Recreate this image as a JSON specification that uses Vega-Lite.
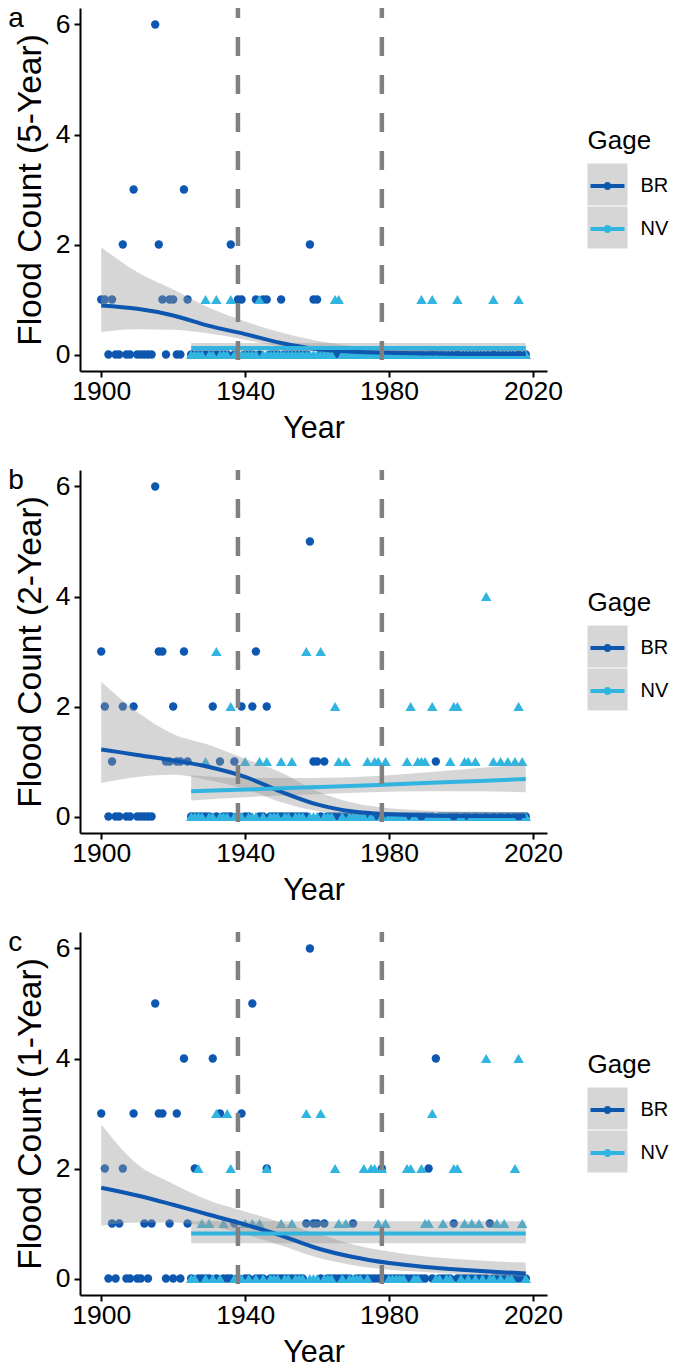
{
"$schema":"https://vega.github.io/schema/vega-lite/v6.json",
"padding":{"left":8,"top":4,"right":2,"bottom":0},
"config":{"view":{"stroke":null},"font":"Liberation Sans",
"axis":{"grid":false,"domainColor":"#000","domainWidth":2,"tickColor":"#000","tickWidth":2,"tickSize":6,"labelFontSize":26.5,"labelColor":"#000","labelFont":"Liberation Sans","titleFont":"Liberation Sans","titleFontSize":30.5,"titleFontWeight":"normal","titleColor":"#000"},
"axisX":{"labelPadding":1,"titlePadding":9},
"axisY":{"labelPadding":4,"titlePadding":8,"titleFontSize":33.5},
"title":{"anchor":"start","frame":"bounds","fontSize":28,"fontWeight":"normal","color":"#000","font":"Liberation Sans","offset":0,"baseline":"top","dy":31,"dx":-5},
"legend":{"orient":"none","legendX":507.5,"legendY":120,"titleFontSize":26,"titleFontWeight":"normal","titleColor":"#000","titleFont":"Liberation Sans","titlePadding":12,"labelFontSize":20,"labelColor":"#000","labelFont":"Liberation Sans","labelOffset":13,"symbolSize":1600,"symbolStrokeWidth":0,"rowPadding":1}},
"datasets":{
"pts":[
{"Gage":"BR","Year":1900,"a":1,"b":3,"c":3},{"Gage":"BR","Year":1901,"a":1,"b":2,"c":2},{"Gage":"BR","Year":1902,"a":0,"b":0,"c":0},{"Gage":"BR","Year":1903,"a":1,"b":1,"c":1},{"Gage":"BR","Year":1904,"a":0,"b":0,"c":0},{"Gage":"BR","Year":1905,"a":0,"b":0,"c":1},{"Gage":"BR","Year":1906,"a":2,"b":2,"c":2},{"Gage":"BR","Year":1907,"a":0,"b":0,"c":0},{"Gage":"BR","Year":1908,"a":0,"b":0,"c":0},{"Gage":"BR","Year":1909,"a":3,"b":2,"c":3},
{"Gage":"BR","Year":1910,"a":0,"b":0,"c":0},{"Gage":"BR","Year":1911,"a":0,"b":0,"c":0},{"Gage":"BR","Year":1912,"a":0,"b":0,"c":1},{"Gage":"BR","Year":1913,"a":0,"b":0,"c":0},{"Gage":"BR","Year":1914,"a":0,"b":0,"c":1},{"Gage":"BR","Year":1915,"a":6,"b":6,"c":5},{"Gage":"BR","Year":1916,"a":2,"b":3,"c":3},{"Gage":"BR","Year":1917,"a":1,"b":3,"c":3},{"Gage":"BR","Year":1918,"a":0,"b":1,"c":0},{"Gage":"BR","Year":1919,"a":1,"b":1,"c":1},
{"Gage":"BR","Year":1920,"a":1,"b":2,"c":0},{"Gage":"BR","Year":1921,"a":0,"b":1,"c":3},{"Gage":"BR","Year":1922,"a":0,"b":1,"c":0},{"Gage":"BR","Year":1923,"a":3,"b":3,"c":4},{"Gage":"BR","Year":1924,"a":1,"b":1,"c":1},{"Gage":"BR","Year":1925,"a":0,"b":0,"c":0},{"Gage":"BR","Year":1926,"a":0,"b":0,"c":2},{"Gage":"BR","Year":1927,"a":0,"b":0,"c":0},{"Gage":"BR","Year":1928,"a":0,"b":0,"c":0},{"Gage":"BR","Year":1929,"a":0,"b":0,"c":0},
{"Gage":"BR","Year":1930,"a":0,"b":0,"c":0},{"Gage":"BR","Year":1931,"a":0,"b":2,"c":4},{"Gage":"BR","Year":1932,"a":0,"b":0,"c":0},{"Gage":"BR","Year":1933,"a":0,"b":1,"c":3},{"Gage":"BR","Year":1934,"a":0,"b":0,"c":0},{"Gage":"BR","Year":1935,"a":0,"b":0,"c":0},{"Gage":"BR","Year":1936,"a":2,"b":0,"c":0},{"Gage":"BR","Year":1937,"a":0,"b":1,"c":1},{"Gage":"BR","Year":1938,"a":1,"b":0,"c":0},{"Gage":"BR","Year":1939,"a":1,"b":2,"c":3},
{"Gage":"BR","Year":1940,"a":0,"b":0,"c":0},{"Gage":"BR","Year":1941,"a":0,"b":0,"c":0},{"Gage":"BR","Year":1942,"a":0,"b":2,"c":5},{"Gage":"BR","Year":1943,"a":1,"b":3,"c":0},{"Gage":"BR","Year":1944,"a":0,"b":0,"c":0},{"Gage":"BR","Year":1945,"a":1,"b":0,"c":0},{"Gage":"BR","Year":1946,"a":1,"b":2,"c":2},{"Gage":"BR","Year":1947,"a":0,"b":0,"c":0},{"Gage":"BR","Year":1948,"a":0,"b":0,"c":0},{"Gage":"BR","Year":1949,"a":0,"b":0,"c":0},
{"Gage":"BR","Year":1950,"a":1,"b":0,"c":0},{"Gage":"BR","Year":1951,"a":0,"b":0,"c":0},{"Gage":"BR","Year":1952,"a":0,"b":0,"c":0},{"Gage":"BR","Year":1953,"a":0,"b":0,"c":0},{"Gage":"BR","Year":1954,"a":0,"b":0,"c":0},{"Gage":"BR","Year":1955,"a":0,"b":0,"c":0},{"Gage":"BR","Year":1956,"a":0,"b":0,"c":0},{"Gage":"BR","Year":1957,"a":0,"b":0,"c":1},{"Gage":"BR","Year":1958,"a":2,"b":5,"c":6},{"Gage":"BR","Year":1959,"a":1,"b":1,"c":1},
{"Gage":"BR","Year":1960,"a":1,"b":1,"c":1},{"Gage":"BR","Year":1961,"a":0,"b":0,"c":0},{"Gage":"BR","Year":1962,"a":0,"b":1,"c":1},{"Gage":"BR","Year":1963,"a":0,"b":0,"c":0},{"Gage":"BR","Year":1964,"a":0,"b":0,"c":0},{"Gage":"BR","Year":1965,"a":0,"b":0,"c":0},{"Gage":"BR","Year":1966,"a":0,"b":0,"c":0},{"Gage":"BR","Year":1967,"a":0,"b":0,"c":0},{"Gage":"BR","Year":1968,"a":0,"b":0,"c":0},{"Gage":"BR","Year":1969,"a":0,"b":0,"c":0},
{"Gage":"BR","Year":1970,"a":0,"b":0,"c":1},{"Gage":"BR","Year":1971,"a":0,"b":0,"c":0},{"Gage":"BR","Year":1972,"a":0,"b":0,"c":0},{"Gage":"BR","Year":1973,"a":0,"b":0,"c":0},{"Gage":"BR","Year":1974,"a":0,"b":0,"c":0},{"Gage":"BR","Year":1975,"a":0,"b":0,"c":0},{"Gage":"BR","Year":1976,"a":0,"b":0,"c":0},{"Gage":"BR","Year":1977,"a":0,"b":0,"c":0},{"Gage":"BR","Year":1978,"a":0,"b":0,"c":2},{"Gage":"BR","Year":1979,"a":0,"b":0,"c":0},
{"Gage":"BR","Year":1980,"a":0,"b":0,"c":0},{"Gage":"BR","Year":1981,"a":0,"b":0,"c":0},{"Gage":"BR","Year":1982,"a":0,"b":0,"c":0},{"Gage":"BR","Year":1983,"a":0,"b":0,"c":0},{"Gage":"BR","Year":1984,"a":0,"b":0,"c":0},{"Gage":"BR","Year":1985,"a":0,"b":0,"c":0},{"Gage":"BR","Year":1986,"a":0,"b":0,"c":0},{"Gage":"BR","Year":1987,"a":0,"b":0,"c":0},{"Gage":"BR","Year":1988,"a":0,"b":0,"c":0},{"Gage":"BR","Year":1989,"a":0,"b":0,"c":0},
{"Gage":"BR","Year":1990,"a":0,"b":0,"c":0},{"Gage":"BR","Year":1991,"a":0,"b":0,"c":2},{"Gage":"BR","Year":1992,"a":0,"b":0,"c":0},{"Gage":"BR","Year":1993,"a":0,"b":1,"c":4},{"Gage":"BR","Year":1994,"a":0,"b":0,"c":0},{"Gage":"BR","Year":1995,"a":0,"b":0,"c":0},{"Gage":"BR","Year":1996,"a":0,"b":0,"c":0},{"Gage":"BR","Year":1997,"a":0,"b":0,"c":0},{"Gage":"BR","Year":1998,"a":0,"b":0,"c":1},{"Gage":"BR","Year":1999,"a":0,"b":0,"c":0},
{"Gage":"BR","Year":2000,"a":0,"b":0,"c":0},{"Gage":"BR","Year":2001,"a":0,"b":0,"c":0},{"Gage":"BR","Year":2002,"a":0,"b":0,"c":0},{"Gage":"BR","Year":2003,"a":0,"b":0,"c":0},{"Gage":"BR","Year":2004,"a":0,"b":0,"c":0},{"Gage":"BR","Year":2005,"a":0,"b":0,"c":0},{"Gage":"BR","Year":2006,"a":0,"b":0,"c":0},{"Gage":"BR","Year":2007,"a":0,"b":0,"c":0},{"Gage":"BR","Year":2008,"a":0,"b":0,"c":1},{"Gage":"BR","Year":2009,"a":0,"b":0,"c":0},
{"Gage":"BR","Year":2010,"a":0,"b":0,"c":0},{"Gage":"BR","Year":2011,"a":0,"b":0,"c":0},{"Gage":"BR","Year":2012,"a":0,"b":0,"c":0},{"Gage":"BR","Year":2013,"a":0,"b":0,"c":0},{"Gage":"BR","Year":2014,"a":0,"b":0,"c":0},{"Gage":"BR","Year":2015,"a":0,"b":0,"c":0},{"Gage":"BR","Year":2016,"a":0,"b":0,"c":0},{"Gage":"BR","Year":2017,"a":0,"b":0,"c":0},{"Gage":"BR","Year":2018,"a":0,"b":0,"c":0},
{"Gage":"NV","Year":1925,"a":0,"b":0,"c":0},{"Gage":"NV","Year":1926,"a":0,"b":0,"c":0},{"Gage":"NV","Year":1927,"a":0,"b":0,"c":2},{"Gage":"NV","Year":1928,"a":0,"b":0,"c":1},{"Gage":"NV","Year":1929,"a":1,"b":1,"c":0},
{"Gage":"NV","Year":1930,"a":0,"b":0,"c":1},{"Gage":"NV","Year":1931,"a":0,"b":0,"c":0},{"Gage":"NV","Year":1932,"a":1,"b":3,"c":3},{"Gage":"NV","Year":1933,"a":0,"b":0,"c":0},{"Gage":"NV","Year":1934,"a":0,"b":0,"c":1},{"Gage":"NV","Year":1935,"a":0,"b":0,"c":3},{"Gage":"NV","Year":1936,"a":1,"b":2,"c":2},{"Gage":"NV","Year":1937,"a":0,"b":0,"c":0},{"Gage":"NV","Year":1938,"a":0,"b":0,"c":0},{"Gage":"NV","Year":1939,"a":0,"b":0,"c":0},
{"Gage":"NV","Year":1940,"a":0,"b":1,"c":1},{"Gage":"NV","Year":1941,"a":0,"b":0,"c":0},{"Gage":"NV","Year":1942,"a":0,"b":0,"c":1},{"Gage":"NV","Year":1943,"a":0,"b":0,"c":0},{"Gage":"NV","Year":1944,"a":1,"b":1,"c":1},{"Gage":"NV","Year":1945,"a":0,"b":0,"c":0},{"Gage":"NV","Year":1946,"a":0,"b":1,"c":2},{"Gage":"NV","Year":1947,"a":0,"b":0,"c":0},{"Gage":"NV","Year":1948,"a":0,"b":0,"c":0},{"Gage":"NV","Year":1949,"a":0,"b":0,"c":0},
{"Gage":"NV","Year":1950,"a":0,"b":1,"c":1},{"Gage":"NV","Year":1951,"a":0,"b":0,"c":0},{"Gage":"NV","Year":1952,"a":0,"b":0,"c":0},{"Gage":"NV","Year":1953,"a":0,"b":1,"c":1},{"Gage":"NV","Year":1954,"a":0,"b":0,"c":0},{"Gage":"NV","Year":1955,"a":0,"b":0,"c":0},{"Gage":"NV","Year":1956,"a":0,"b":0,"c":0},{"Gage":"NV","Year":1957,"a":0,"b":3,"c":3},{"Gage":"NV","Year":1958,"a":0,"b":0,"c":0},{"Gage":"NV","Year":1959,"a":0,"b":0,"c":0},
{"Gage":"NV","Year":1960,"a":0,"b":0,"c":0},{"Gage":"NV","Year":1961,"a":0,"b":3,"c":3},{"Gage":"NV","Year":1962,"a":0,"b":0,"c":0},{"Gage":"NV","Year":1963,"a":0,"b":0,"c":0},{"Gage":"NV","Year":1964,"a":0,"b":0,"c":0},{"Gage":"NV","Year":1965,"a":1,"b":2,"c":2},{"Gage":"NV","Year":1966,"a":1,"b":1,"c":1},{"Gage":"NV","Year":1967,"a":0,"b":0,"c":0},{"Gage":"NV","Year":1968,"a":0,"b":1,"c":1},{"Gage":"NV","Year":1969,"a":0,"b":0,"c":0},
{"Gage":"NV","Year":1970,"a":0,"b":0,"c":0},{"Gage":"NV","Year":1971,"a":0,"b":0,"c":0},{"Gage":"NV","Year":1972,"a":0,"b":0,"c":0},{"Gage":"NV","Year":1973,"a":0,"b":0,"c":2},{"Gage":"NV","Year":1974,"a":0,"b":1,"c":0},{"Gage":"NV","Year":1975,"a":0,"b":0,"c":2},{"Gage":"NV","Year":1976,"a":0,"b":1,"c":2},{"Gage":"NV","Year":1977,"a":0,"b":1,"c":1},{"Gage":"NV","Year":1978,"a":0,"b":0,"c":2},{"Gage":"NV","Year":1979,"a":0,"b":1,"c":1},
{"Gage":"NV","Year":1980,"a":0,"b":0,"c":0},{"Gage":"NV","Year":1981,"a":0,"b":0,"c":0},{"Gage":"NV","Year":1982,"a":0,"b":0,"c":0},{"Gage":"NV","Year":1983,"a":0,"b":0,"c":0},{"Gage":"NV","Year":1984,"a":0,"b":0,"c":0},{"Gage":"NV","Year":1985,"a":0,"b":1,"c":2},{"Gage":"NV","Year":1986,"a":0,"b":2,"c":2},{"Gage":"NV","Year":1987,"a":0,"b":0,"c":0},{"Gage":"NV","Year":1988,"a":0,"b":1,"c":0},{"Gage":"NV","Year":1989,"a":1,"b":1,"c":2},
{"Gage":"NV","Year":1990,"a":0,"b":1,"c":1},{"Gage":"NV","Year":1991,"a":0,"b":0,"c":1},{"Gage":"NV","Year":1992,"a":1,"b":2,"c":3},{"Gage":"NV","Year":1993,"a":0,"b":0,"c":0},{"Gage":"NV","Year":1994,"a":0,"b":0,"c":0},{"Gage":"NV","Year":1995,"a":0,"b":0,"c":1},{"Gage":"NV","Year":1996,"a":0,"b":0,"c":0},{"Gage":"NV","Year":1997,"a":0,"b":1,"c":0},{"Gage":"NV","Year":1998,"a":0,"b":2,"c":2},{"Gage":"NV","Year":1999,"a":1,"b":2,"c":2},
{"Gage":"NV","Year":2000,"a":0,"b":0,"c":0},{"Gage":"NV","Year":2001,"a":0,"b":1,"c":1},{"Gage":"NV","Year":2002,"a":0,"b":1,"c":0},{"Gage":"NV","Year":2003,"a":0,"b":0,"c":1},{"Gage":"NV","Year":2004,"a":0,"b":1,"c":0},{"Gage":"NV","Year":2005,"a":0,"b":0,"c":1},{"Gage":"NV","Year":2006,"a":0,"b":0,"c":0},{"Gage":"NV","Year":2007,"a":0,"b":4,"c":4},{"Gage":"NV","Year":2008,"a":0,"b":0,"c":0},{"Gage":"NV","Year":2009,"a":1,"b":1,"c":0},
{"Gage":"NV","Year":2010,"a":0,"b":0,"c":1},{"Gage":"NV","Year":2011,"a":0,"b":1,"c":0},{"Gage":"NV","Year":2012,"a":0,"b":0,"c":1},{"Gage":"NV","Year":2013,"a":0,"b":1,"c":0},{"Gage":"NV","Year":2014,"a":0,"b":0,"c":0},{"Gage":"NV","Year":2015,"a":0,"b":1,"c":2},{"Gage":"NV","Year":2016,"a":1,"b":2,"c":4},{"Gage":"NV","Year":2017,"a":0,"b":1,"c":1},{"Gage":"NV","Year":2018,"a":0,"b":0,"c":0}
],
"fit":[
{"panel":"a","Gage":"BR","Year":1900,"fit":0.89,"lo":0.41,"hi":1.95},{"panel":"a","Gage":"BR","Year":1910,"fit":0.83,"lo":0.46,"hi":1.5},{"panel":"a","Gage":"BR","Year":1920,"fit":0.71,"lo":0.45,"hi":1.18},{"panel":"a","Gage":"BR","Year":1930,"fit":0.52,"lo":0.38,"hi":0.85},{"panel":"a","Gage":"BR","Year":1940,"fit":0.37,"lo":0.27,"hi":0.6},{"panel":"a","Gage":"BR","Year":1950,"fit":0.21,"lo":0.14,"hi":0.4},{"panel":"a","Gage":"BR","Year":1960,"fit":0.1,"lo":0.05,"hi":0.25},{"panel":"a","Gage":"BR","Year":1970,"fit":0.05,"lo":0.02,"hi":0.15},{"panel":"a","Gage":"BR","Year":1980,"fit":0.03,"lo":0.01,"hi":0.09},{"panel":"a","Gage":"BR","Year":1990,"fit":0.02,"lo":0.005,"hi":0.06},{"panel":"a","Gage":"BR","Year":2000,"fit":0.01,"lo":0.003,"hi":0.05},{"panel":"a","Gage":"BR","Year":2018,"fit":0.01,"lo":0.001,"hi":0.05},
{"panel":"a","Gage":"NV","Year":1925,"fit":0.117,"lo":0.065,"hi":0.21},{"panel":"a","Gage":"NV","Year":2018,"fit":0.117,"lo":0.065,"hi":0.21},
{"panel":"b","Gage":"BR","Year":1900,"fit":1.22,"lo":0.61,"hi":2.45},{"panel":"b","Gage":"BR","Year":1910,"fit":1.12,"lo":0.72,"hi":1.9},{"panel":"b","Gage":"BR","Year":1920,"fit":1.02,"lo":0.76,"hi":1.5},{"panel":"b","Gage":"BR","Year":1930,"fit":0.9,"lo":0.66,"hi":1.3},{"panel":"b","Gage":"BR","Year":1940,"fit":0.72,"lo":0.5,"hi":1.05},{"panel":"b","Gage":"BR","Year":1950,"fit":0.45,"lo":0.26,"hi":0.8},{"panel":"b","Gage":"BR","Year":1960,"fit":0.22,"lo":0.1,"hi":0.46},{"panel":"b","Gage":"BR","Year":1970,"fit":0.09,"lo":0.03,"hi":0.25},{"panel":"b","Gage":"BR","Year":1980,"fit":0.04,"lo":0.01,"hi":0.15},{"panel":"b","Gage":"BR","Year":1990,"fit":0.02,"lo":0.004,"hi":0.11},{"panel":"b","Gage":"BR","Year":2000,"fit":0.01,"lo":0.001,"hi":0.09},{"panel":"b","Gage":"BR","Year":2018,"fit":0.01,"lo":0,"hi":0.08},
{"panel":"b","Gage":"NV","Year":1925,"fit":0.46,"lo":0.29,"hi":0.75},{"panel":"b","Gage":"NV","Year":1940,"fit":0.49,"lo":0.35,"hi":0.7},{"panel":"b","Gage":"NV","Year":1958,"fit":0.53,"lo":0.4,"hi":0.7},{"panel":"b","Gage":"NV","Year":1975,"fit":0.57,"lo":0.44,"hi":0.73},{"panel":"b","Gage":"NV","Year":1990,"fit":0.61,"lo":0.46,"hi":0.8},{"panel":"b","Gage":"NV","Year":2005,"fit":0.645,"lo":0.46,"hi":0.88},{"panel":"b","Gage":"NV","Year":2018,"fit":0.68,"lo":0.44,"hi":0.95},
{"panel":"c","Gage":"BR","Year":1900,"fit":1.65,"lo":0.96,"hi":2.8},{"panel":"c","Gage":"BR","Year":1910,"fit":1.51,"lo":1.02,"hi":2.08},{"panel":"c","Gage":"BR","Year":1920,"fit":1.34,"lo":1.02,"hi":1.72},{"panel":"c","Gage":"BR","Year":1930,"fit":1.16,"lo":0.95,"hi":1.42},{"panel":"c","Gage":"BR","Year":1940,"fit":0.98,"lo":0.8,"hi":1.22},{"panel":"c","Gage":"BR","Year":1950,"fit":0.78,"lo":0.6,"hi":1.02},{"panel":"c","Gage":"BR","Year":1960,"fit":0.55,"lo":0.38,"hi":0.82},{"panel":"c","Gage":"BR","Year":1970,"fit":0.39,"lo":0.24,"hi":0.62},{"panel":"c","Gage":"BR","Year":1980,"fit":0.28,"lo":0.16,"hi":0.49},{"panel":"c","Gage":"BR","Year":1990,"fit":0.21,"lo":0.12,"hi":0.4},{"panel":"c","Gage":"BR","Year":2000,"fit":0.16,"lo":0.08,"hi":0.35},{"panel":"c","Gage":"BR","Year":2010,"fit":0.12,"lo":0.05,"hi":0.31},{"panel":"c","Gage":"BR","Year":2018,"fit":0.09,"lo":0.03,"hi":0.29},
{"panel":"c","Gage":"NV","Year":1925,"fit":0.82,"lo":0.64,"hi":1.04},{"panel":"c","Gage":"NV","Year":2018,"fit":0.82,"lo":0.64,"hi":1.04}
],
"vlines":[{"Year":1938},{"Year":1978}]
},
"spacing":99,
"bounds":"flush",
"resolve":{"scale":{"color":"independent","fill":"independent"},"legend":{"color":"independent","fill":"independent"}},
"vconcat":[
{"width":467,"height":363,"title":{"text":"a"},
"layer":[
{"data":{"name":"pts"},"transform":[{"fold":["a","b","c"],"as":["panel","Count"]},{"filter":"datum.panel === 'a' && datum.Gage === 'BR'"}],
"mark":{"type":"point","shape":"circle","filled":true,"opacity":1,"size":70},
"encoding":{
"x":{"field":"Year","type":"quantitative","scale":{"domain":[1894.1,2023.9],"nice":false,"zero":false},"axis":{"values":[1900,1940,1980,2020],"format":"d","title":"Year"}},
"y":{"field":"Count","type":"quantitative","scale":{"domain":[-0.3,6.3],"nice":false,"zero":false},"axis":{"values":[0,2,4,6],"format":"d","title":"Flood Count (5-Year)"}},
"color":{"field":"Gage","type":"nominal","scale":{"domain":["BR","NV"],"range":["#0D57B0","#31B5E0"]},"legend":{"title":"Gage","zindex":2,"symbolType":"M0,-1.05L0,-1.05Z M0,1.05L0,1.05Z M-0.85,-0.1H0.85V0.1H-0.85Z M-0.2,0A0.2,0.2 0 1,1 0.2,0A0.2,0.2 0 1,1 -0.2,0Z","encode":{"symbols":{"size":{"value":1600}}}}}}},
{"data":{"name":"pts"},"transform":[{"fold":["a","b","c"],"as":["panel","Count"]},{"filter":"datum.panel === 'a' && datum.Gage === 'NV'"}],
"mark":{"type":"point","shape":"triangle-up","filled":true,"opacity":1,"size":110},
"encoding":{"x":{"field":"Year","type":"quantitative"},"y":{"field":"Count","type":"quantitative"},"color":{"field":"Gage","type":"nominal"}}},
{"data":{"name":"fit"},"transform":[{"filter":"datum.panel === 'a'"}],"mark":{"type":"area","opacity":0.4,"interpolate":"monotone"},
"encoding":{"x":{"field":"Year","type":"quantitative"},"y":{"field":"lo","type":"quantitative"},"y2":{"field":"hi"},"fill":{"field":"Gage","type":"nominal","scale":{"range":["#999999","#999999"]},"legend":{"title":null,"legendY":156.5,"zindex":1,"labelExpr":"''","symbolType":"M-1,-1.05H1V1.05H-1Z","encode":{"symbols":{"size":{"value":1600}}}}}}},
{"data":{"name":"fit"},"transform":[{"filter":"datum.panel === 'a'"}],"mark":{"type":"line","strokeWidth":4,"interpolate":"monotone"},
"encoding":{"x":{"field":"Year","type":"quantitative"},"y":{"field":"fit","type":"quantitative"},"color":{"field":"Gage","type":"nominal"}}},
{"data":{"name":"vlines"},"mark":{"type":"rule","color":"#808080","strokeWidth":4.5,"strokeDash":[19,19],"strokeDashOffset":9},"encoding":{"x":{"field":"Year","type":"quantitative"}}}
]},
{"width":467,"height":363,"title":{"text":"b"},
"layer":[
{"data":{"name":"pts"},"transform":[{"fold":["a","b","c"],"as":["panel","Count"]},{"filter":"datum.panel === 'b' && datum.Gage === 'BR'"}],
"mark":{"type":"point","shape":"circle","filled":true,"opacity":1,"size":70},
"encoding":{
"x":{"field":"Year","type":"quantitative","scale":{"domain":[1894.1,2023.9],"nice":false,"zero":false},"axis":{"values":[1900,1940,1980,2020],"format":"d","title":"Year"}},
"y":{"field":"Count","type":"quantitative","scale":{"domain":[-0.3,6.3],"nice":false,"zero":false},"axis":{"values":[0,2,4,6],"format":"d","title":"Flood Count (2-Year)"}},
"color":{"field":"Gage","type":"nominal","scale":{"domain":["BR","NV"],"range":["#0D57B0","#31B5E0"]},"legend":{"title":"Gage","zindex":2,"symbolType":"M0,-1.05L0,-1.05Z M0,1.05L0,1.05Z M-0.85,-0.1H0.85V0.1H-0.85Z M-0.2,0A0.2,0.2 0 1,1 0.2,0A0.2,0.2 0 1,1 -0.2,0Z","encode":{"symbols":{"size":{"value":1600}}}}}}},
{"data":{"name":"pts"},"transform":[{"fold":["a","b","c"],"as":["panel","Count"]},{"filter":"datum.panel === 'b' && datum.Gage === 'NV'"}],
"mark":{"type":"point","shape":"triangle-up","filled":true,"opacity":1,"size":110},
"encoding":{"x":{"field":"Year","type":"quantitative"},"y":{"field":"Count","type":"quantitative"},"color":{"field":"Gage","type":"nominal"}}},
{"data":{"name":"fit"},"transform":[{"filter":"datum.panel === 'b'"}],"mark":{"type":"area","opacity":0.4,"interpolate":"monotone"},
"encoding":{"x":{"field":"Year","type":"quantitative"},"y":{"field":"lo","type":"quantitative"},"y2":{"field":"hi"},"fill":{"field":"Gage","type":"nominal","scale":{"range":["#999999","#999999"]},"legend":{"title":null,"legendY":156.5,"zindex":1,"labelExpr":"''","symbolType":"M-1,-1.05H1V1.05H-1Z","encode":{"symbols":{"size":{"value":1600}}}}}}},
{"data":{"name":"fit"},"transform":[{"filter":"datum.panel === 'b'"}],"mark":{"type":"line","strokeWidth":4,"interpolate":"monotone"},
"encoding":{"x":{"field":"Year","type":"quantitative"},"y":{"field":"fit","type":"quantitative"},"color":{"field":"Gage","type":"nominal"}}},
{"data":{"name":"vlines"},"mark":{"type":"rule","color":"#808080","strokeWidth":4.5,"strokeDash":[19,19],"strokeDashOffset":9},"encoding":{"x":{"field":"Year","type":"quantitative"}}}
]},
{"width":467,"height":363,"title":{"text":"c"},
"layer":[
{"data":{"name":"pts"},"transform":[{"fold":["a","b","c"],"as":["panel","Count"]},{"filter":"datum.panel === 'c' && datum.Gage === 'BR'"}],
"mark":{"type":"point","shape":"circle","filled":true,"opacity":1,"size":70},
"encoding":{
"x":{"field":"Year","type":"quantitative","scale":{"domain":[1894.1,2023.9],"nice":false,"zero":false},"axis":{"values":[1900,1940,1980,2020],"format":"d","title":"Year"}},
"y":{"field":"Count","type":"quantitative","scale":{"domain":[-0.3,6.3],"nice":false,"zero":false},"axis":{"values":[0,2,4,6],"format":"d","title":"Flood Count (1-Year)"}},
"color":{"field":"Gage","type":"nominal","scale":{"domain":["BR","NV"],"range":["#0D57B0","#31B5E0"]},"legend":{"title":"Gage","zindex":2,"symbolType":"M0,-1.05L0,-1.05Z M0,1.05L0,1.05Z M-0.85,-0.1H0.85V0.1H-0.85Z M-0.2,0A0.2,0.2 0 1,1 0.2,0A0.2,0.2 0 1,1 -0.2,0Z","encode":{"symbols":{"size":{"value":1600}}}}}}},
{"data":{"name":"pts"},"transform":[{"fold":["a","b","c"],"as":["panel","Count"]},{"filter":"datum.panel === 'c' && datum.Gage === 'NV'"}],
"mark":{"type":"point","shape":"triangle-up","filled":true,"opacity":1,"size":110},
"encoding":{"x":{"field":"Year","type":"quantitative"},"y":{"field":"Count","type":"quantitative"},"color":{"field":"Gage","type":"nominal"}}},
{"data":{"name":"fit"},"transform":[{"filter":"datum.panel === 'c'"}],"mark":{"type":"area","opacity":0.4,"interpolate":"monotone"},
"encoding":{"x":{"field":"Year","type":"quantitative"},"y":{"field":"lo","type":"quantitative"},"y2":{"field":"hi"},"fill":{"field":"Gage","type":"nominal","scale":{"range":["#999999","#999999"]},"legend":{"title":null,"legendY":156.5,"zindex":1,"labelExpr":"''","symbolType":"M-1,-1.05H1V1.05H-1Z","encode":{"symbols":{"size":{"value":1600}}}}}}},
{"data":{"name":"fit"},"transform":[{"filter":"datum.panel === 'c'"}],"mark":{"type":"line","strokeWidth":4,"interpolate":"monotone"},
"encoding":{"x":{"field":"Year","type":"quantitative"},"y":{"field":"fit","type":"quantitative"},"color":{"field":"Gage","type":"nominal"}}},
{"data":{"name":"vlines"},"mark":{"type":"rule","color":"#808080","strokeWidth":4.5,"strokeDash":[19,19],"strokeDashOffset":9},"encoding":{"x":{"field":"Year","type":"quantitative"}}}
]}
]
}
